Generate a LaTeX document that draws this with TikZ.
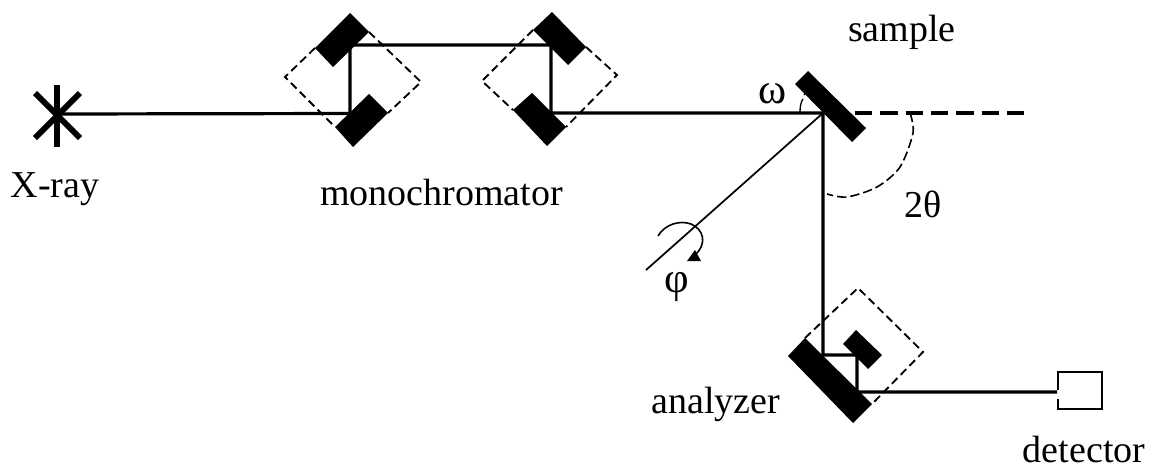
\documentclass[tikz,border=0pt]{standalone}
\usepackage{fontspec}
\setmainfont{Liberation Serif}
\usetikzlibrary{calc}
\tikzset{
  beam/.style={line width=2.4pt,black},
  thinbeam/.style={line width=1.3pt,black},
  crystal/.style={fill=black,draw=none},
  frame/.style={line width=1.4pt,dash pattern=on 6pt off 3.4pt},
  anglearc/.style={line width=1.2pt,dash pattern=on 7pt off 3pt},
  starline/.style={line width=4.4pt,black},
  lbl/.style={inner sep=0pt,anchor=base,font=\fontsize{28.5pt}{30pt}\selectfont},
  greek/.style={inner sep=0pt,anchor=base,font=\fontsize{32pt}{34pt}\selectfont}
}
\begin{document}
\begin{tikzpicture}[x=0.75pt,y=-0.75pt]
\useasboundingbox (0,0) rectangle (1155,468);
% beam path points
\coordinate (src) at (57,114);
\coordinate (m1a) at (350,113.5);
\coordinate (m1b) at (350,45);
\coordinate (m2a) at (551,45);
\coordinate (m2b) at (551,113);
\coordinate (smp) at (823,113);
\coordinate (anA) at (823,355);
\coordinate (anB) at (857,355);
\coordinate (anC) at (857,392);
\coordinate (det) at (1057,392);
\coordinate (axis) at (646,270);
\coordinate (refl) at (1030,113);
\coordinate (reflS) at (855,113);
% star
\draw[starline] (57,85) -- (57,147);
\draw[starline] (35,93) -- (80,138);
\draw[starline] (80,93) -- (35,138);
% dashed frames
\draw[frame] (315,48) -- (285,77) -- (335,127);
\draw[frame] (369,32) -- (421,82) -- (388,113);
\draw[frame] (533,30) -- (482,81) -- (513,110);
\draw[frame] (586,47) -- (617,75) -- (566,127);
\draw[frame] (805,338) -- (858,288) -- (923,352) -- (872,404);
% beams
\draw[beam] (src) -- (m1a) -- (m1b) -- (m2a) -- (m2b) -- (smp) -- (anA) -- (anB) -- (anC) -- (det);
\draw[thinbeam] (smp) -- (axis);
\draw[beam,dash pattern=on 13pt off 6pt] (reflS) -- (refl);
% crystals
\fill[crystal] (350,13) -- (369,32) -- (333,67) -- (315,48) -- cycle;
\fill[crystal] (369,94) -- (388,113) -- (353,147) -- (335,127) -- cycle;
\fill[crystal] (552,12) -- (586,47) -- (568,65) -- (533,30) -- cycle;
\fill[crystal] (532,93) -- (566,127) -- (547,146) -- (513,110) -- cycle;
\fill[crystal] (808,71) -- (866,128) -- (852,142) -- (795,84) -- cycle;
\fill[crystal] (805,338) -- (872,404) -- (853,423) -- (788,356) -- cycle;
\fill[crystal] (856,330) -- (882,355) -- (868,369) -- (843,344) -- cycle;
% angle arcs
\draw[line width=1pt] (800,112) .. controls (800,106) and (801,102) .. (803,99);
\draw[line width=1pt] (804,95) -- (806,92);
\draw[anglearc] plot[smooth] coordinates {(910,113) (913,133) (900,167) (877,187) (847,197) (827,194)};
% rotation arrow
\draw[line width=1.2pt] (658,236) .. controls (665,224) and (680,220) .. (691,224)
  .. controls (703,229) and (708,243) .. (695,255);
\fill (687,261) -- (701,261) -- (695,250) -- cycle;
% detector
\draw[line width=1.2pt] (1058,390) -- (1058,372) -- (1102,372) -- (1102,409) -- (1058,409) -- (1058,399);
% labels
\node[lbl] (xray) at (55,197) {X-ray};
\node[lbl] (mono) at (441.5,205) {monochromator};
\node[lbl] (sample) at (902,41) {sample};
\node[lbl] (analyzer) at (716,413) {analyzer};
\node[lbl] (detector) at (1084,462) {detector};
\node[greek] (omega) at (773,103) {ω};
\node[lbl] (twotheta) at (923,217) {2θ};
\node[greek] (phi) at (677,292) {φ};
\end{tikzpicture}
\end{document}
